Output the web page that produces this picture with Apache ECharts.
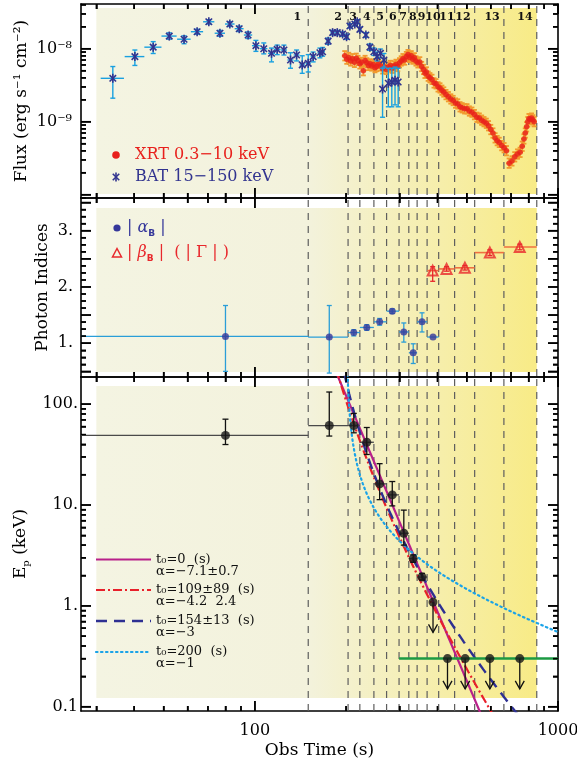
<!DOCTYPE html>
<html>
<head>
<meta charset="utf-8">
<title>GRB light curve, photon indices and Ep</title>
<script src="https://cdn.jsdelivr.net/npm/echarts@6.0.0/dist/echarts.min.js"></script>
<style>
html,body{margin:0;padding:0;background:#ffffff;}
#chart{width:577px;height:765px;}
</style>
</head>
<body>
<div id="chart"></div>
<script>
// ===================== DATA =====================
const timeAxisRange = [26.7, 1000];
const fluxAxisRange = [9.0e-11, 4.1e-8];
const indexAxisRange = [0.4, 3.58];
const epAxisRange = [0.0906, 186];

const timeLabelValues = [100, 1000];
const fluxLabelExponents = [-9, -8];
const indexLabelValues = [1, 2, 3];
const epLabelValues = [0.1, 1, 10, 100];

const intervalBounds = [150, 203, 222, 247, 272, 299, 322, 343, 370, 404, 456, 531, 663, 851];
const intervalNames = ['1','2','3','4','5','6','7','8','9','10','11','12','13','14'];
const intervalLabelTimes = [138, 188, 211, 234, 259, 285, 308, 332, 355, 387, 430, 486, 606, 778];
const shadeStart = 30, shadeSplit = 150, shadeEnd = 851;

// BAT 15-150 keV flux
const batTime = [34.0,40.2,46.2,52.2,58.4,64.5,70.5,76.7,82.7,88.8,95.0,100.8,107.0,113.5,118.5,124.7,131.1,137.3,143.3,150.0,155.7,163.9,167.3,174.5,180.5,187.0,194.7,200.7,205.8,213.7,217.6,222.0,232.4,239.6,247.0,253.0,259.6,263.8,266.6,275.6,283.0,290.0,297.0];
const batFlux = [3.93e-9,7.8e-9,1.05e-8,1.49e-8,1.35e-8,1.71e-8,2.34e-8,1.63e-8,2.18e-8,1.88e-8,1.54e-8,1.10e-8,1.00e-8,8.65e-9,9.8e-9,9.6e-9,7.0e-9,8.2e-9,6.0e-9,6.3e-9,7.8e-9,8.8e-9,9.1e-9,1.27e-8,1.66e-8,1.66e-8,1.59e-8,1.46e-8,2.05e-8,2.18e-8,2.34e-8,1.84e-8,1.54e-8,1.05e-8,9.1e-9,7.8e-9,8.65e-9,2.8e-9,7.0e-9,3.36e-9,3.5e-9,3.7e-9,3.5e-9];
const batLo = [2.1e-9,5.9e-9,8.6e-9,1.35e-8,1.17e-8,1.58e-8,2.18e-8,1.48e-8,2.02e-8,1.72e-8,1.38e-8,9.2e-9,8.5e-9,6.6e-9,8.3e-9,8.2e-9,5.4e-9,6.8e-9,4.6e-9,4.8e-9,6.6e-9,7.5e-9,7.9e-9,1.15e-8,1.55e-8,1.55e-8,1.48e-8,1.35e-8,1.92e-8,2.05e-8,2.2e-8,1.72e-8,1.43e-8,9.5e-9,8.1e-9,6.8e-9,7.5e-9,1.15e-9,5.6e-9,1.6e-9,1.6e-9,1.7e-9,1.6e-9];
const batHi = [5.7e-9,9.6e-9,1.25e-8,1.65e-8,1.5e-8,1.85e-8,2.5e-8,1.78e-8,2.34e-8,2.04e-8,1.7e-8,1.3e-8,1.2e-8,1.02e-8,1.12e-8,1.12e-8,8.8e-9,9.6e-9,8.0e-9,8.3e-9,9.0e-9,1.02e-8,1.04e-8,1.4e-8,1.78e-8,1.78e-8,1.7e-8,1.58e-8,2.2e-8,2.32e-8,2.5e-8,1.97e-8,1.66e-8,1.16e-8,1.02e-8,9.0e-9,9.9e-9,5.4e-9,8.6e-9,5.4e-9,5.4e-9,5.6e-9,5.4e-9];
const batHalfBin = 3;

// XRT 0.3-10 keV flux
const xrtTime = [198,201,204,207,210,213,216,219,222,225,228,231,234,237,240,243,246,249,252,256,260,264,268,272,276,280,284,288,292,296,300,304,308,312,316,320,324,328,332,336,340,345,350,355,360,364,368,373,378,384,390,396,402,408,414,420,427,435,443,451,459,467,475,483,492,501,510,520,530,540,550,560,570,580,590,600,610,620,630,640,652,664,676,690,705,720,735,750,762,772,780,788,795,802,810,818,826,834];
const xrtFlux = [8.0e-9,7.2e-9,7.6e-9,6.8e-9,7.3e-9,6.5e-9,7.4e-9,6.9e-9,6.2e-9,6.5e-9,5.0e-9,6.9e-9,6.4e-9,5.9e-9,6.2e-9,5.8e-9,6.1e-9,5.5e-9,5.7e-9,6.2e-9,5.8e-9,5.3e-9,5.6e-9,5.2e-9,5.6e-9,5.9e-9,5.4e-9,5.8e-9,6.1e-9,5.7e-9,6.4e-9,6.8e-9,7.3e-9,7.0e-9,7.8e-9,8.3e-9,7.6e-9,8.0e-9,7.2e-9,7.5e-9,6.8e-9,6.4e-9,6.6e-9,5.7e-9,5.2e-9,4.6e-9,4.8e-9,4.2e-9,4.0e-9,3.8e-9,3.4e-9,3.3e-9,3.0e-9,2.9e-9,2.7e-9,2.55e-9,2.35e-9,2.2e-9,2.05e-9,1.95e-9,1.8e-9,1.75e-9,1.6e-9,1.55e-9,1.5e-9,1.5e-9,1.4e-9,1.35e-9,1.25e-9,1.15e-9,1.12e-9,1.05e-9,1.0e-9,9.5e-10,8.8e-10,7.8e-10,7.0e-10,6.0e-10,5.5e-10,5.2e-10,4.7e-10,4.4e-10,4.0e-10,2.7e-10,2.9e-10,3.3e-10,3.6e-10,3.8e-10,4.6e-10,5.8e-10,7.0e-10,8.5e-10,1.0e-9,1.1e-9,1.08e-9,1.12e-9,1.06e-9,1.0e-9];
const xrtRelErr = 0.16;
const xrtRelHalfBin = 0.022;

// |alpha_B|
const alphaTime  = [80, 176, 212, 234, 258, 284, 310, 333, 356, 387];
const alphaVal   = [1.12, 1.11, 1.19, 1.28, 1.38, 1.57, 1.20, 0.83, 1.38, 1.11];
const alphaLo    = [0.50, 0.47, 1.13, 1.23, 1.32, 1.53, 1.02, 0.64, 1.20, 1.11];
const alphaHi    = [1.67, 1.67, 1.24, 1.33, 1.44, 1.61, 1.36, 0.99, 1.54, 1.11];
const alphaStart = [0.5, 150, 203, 222, 247, 272, 299, 322, 343, 370];
const alphaEnd   = [150, 203, 222, 247, 272, 299, 322, 343, 370, 404];

// |beta_B| (|Gamma|)
const betaTime  = [386, 429, 493, 596, 748];
const betaVal   = [2.29, 2.32, 2.34, 2.61, 2.71];
const betaLo    = [2.10, 2.28, 2.30, 2.56, 2.66];
const betaHi    = [2.36, 2.36, 2.38, 2.66, 2.76];
const betaStart = [370, 404, 456, 531, 663];
const betaEnd   = [404, 456, 531, 663, 851];

// Ep (keV)
const epTime  = [80, 176, 212, 234, 258, 284, 310, 333, 356];
const epVal   = [49, 61.4, 61.4, 41.9, 16.2, 12.6, 5.25, 2.94, 1.93];
const epLo    = [39.8, 48.3, 52, 31.7, 11.3, 9.8, 4.0, 2.7, 1.8];
const epHi    = [71, 132, 81, 58.7, 25.7, 17.1, 8.9, 3.2, 2.1];
const epStart = [0.5, 150, 203, 222, 247, 272, 299, 322, 343];
const epEnd   = [150, 203, 222, 247, 272, 299, 322, 343, 370];
const epULTime = [387, 432, 494, 596, 748];
const epULVal  = [1.09, 0.3, 0.3, 0.3, 0.3];
const ulArrowFactor = 0.5;
const greenLineTime = [299, 1000];
const greenLineEp = 0.3;

// Ep(t) = N * ((t - t0)/(300 - t0))^alpha
const modelT0 = [0, 109, 154, 200];
const modelAlpha = [-7.1, -4.2, -3, -1];
const modelEpAt300 = [6.8, 4.8, 5.3, 4.4];

// ===================== STYLE / BUILD =====================
const FONT = '"DejaVu Serif", "Liberation Serif", serif';
const C = {
  red: '#e8201c', orange: '#f29a2e', navy: '#32348f', cyan: '#19a0e0',
  abBlue: '#35379a', abBar: '#2a9ed8', beta: '#e8282c', betaBar: '#f07040',
  magenta: '#b8208a', dashRed: '#e8202a', dashNavy: '#2e3092', dotCyan: '#1aa3e8', green: '#1c9a43'
};
const SUP = {'-':'\u207B','0':'\u2070','1':'\u00B9','2':'\u00B2','3':'\u00B3','4':'\u2074','5':'\u2075','6':'\u2076','7':'\u2077','8':'\u2078','9':'\u2079'};

const gridDefs = [
  {left: 81, top: 4, height: 194},
  {left: 81, top: 198, height: 179},
  {left: 81, top: 377, height: 334}
];
const gridRight = 19;
const yRanges = [fluxAxisRange, indexAxisRange, epAxisRange];
const yTypes = ['log', 'value', 'log'];
const yRefs = [1e-9, 2, 1];
const shadeInsets = [[4, 4], [10, 5], [9, 13]];

function near(a, b) { return Math.abs(a - b) <= 1e-6 * Math.max(1, Math.abs(b)); }
function logTicks(range, mults) {
  const out = [];
  for (let e = Math.floor(Math.log10(range[0])) - 1; e <= Math.ceil(Math.log10(range[1])); e++) {
    for (const m of mults) {
      const v = m * Math.pow(10, e);
      if (v >= range[0] * 0.999 && v <= range[1] * 1.001) out.push(v);
    }
  }
  return out;
}
function linTicks(range, step) {
  const out = [];
  for (let v = Math.ceil(range[0] / step) * step; v <= range[1] + 1e-9; v += step) out.push(+v.toFixed(6));
  return out;
}
const xMajor = logTicks(timeAxisRange, [1]);
const xMinor = logTicks(timeAxisRange, [2,3,4,5,6,7,8,9]);
const yMajorSets = [logTicks(fluxAxisRange, [1]), linTicks(indexAxisRange, 0.5), logTicks(epAxisRange, [1])];
const yMinorSets = [logTicks(fluxAxisRange, [2,3,4,5,6,7,8,9]),
  linTicks(indexAxisRange, 0.125).filter(v => !near(v / 0.5, Math.round(v / 0.5))),
  logTicks(epAxisRange, [2,3,4,5,6,7,8,9])];

function fmtFlux(v) {
  const l = Math.log10(v), e = Math.round(l);
  if (Math.abs(l - e) > 1e-6 || fluxLabelExponents.indexOf(e) < 0) return '';
  return '10' + String(e).split('').map(c => SUP[c]).join('');
}
function fmtIndex(v) {
  for (const t of indexLabelValues) if (near(v, t)) return t + '.';
  return '';
}
function fmtEp(v) {
  for (const t of epLabelValues) if (Math.abs(Math.log10(v) - Math.log10(t)) < 1e-6) return t < 1 ? String(t) : t + '.';
  return '';
}
function fmtTime(v) {
  for (const t of timeLabelValues) if (Math.abs(Math.log10(v) - Math.log10(t)) < 1e-6) return String(t);
  return '';
}
const yFormatters = [fmtFlux, fmtIndex, fmtEp];
const yNames = ['Flux (erg s\u207B\u00B9 cm\u207B\u00B2)', 'Photon Indices', '{n|E}{s|p}{n| (keV)}'];
const yNameGaps = [51, 30, 50];
const yLabelMargins = [9, 8, 3];

function tickCfg(values, len) {
  return {show: true, inside: true, length: len, customValues: values, lineStyle: {color: '#000', width: 1.5}};
}
const xAxes = [], yAxes = [];
gridDefs.forEach((g, i) => {
  const last = i === gridDefs.length - 1;
  const xBase = {type: 'log', logBase: 10, gridIndex: i, min: timeAxisRange[0], max: timeAxisRange[1],
    splitLine: {show: false}, minorTick: {show: false}, axisPointer: {show: false}};
  const yBase = {type: yTypes[i], gridIndex: i, min: yRanges[i][0], max: yRanges[i][1],
    splitLine: {show: false}, minorTick: {show: false}, axisPointer: {show: false}};
  const line = () => ({show: true, onZero: false, lineStyle: {color: '#000', width: 1.6}});
  const noLine = () => ({show: false, onZero: false});
  xAxes.push(Object.assign({}, xBase, {position: 'bottom', axisLine: line(), axisTick: tickCfg(xMajor, 10),
    axisLabel: {show: last, formatter: fmtTime, margin: 12, fontFamily: FONT, fontSize: 16, color: '#000', showMinLabel: true, showMaxLabel: true},
    name: last ? 'Obs Time (s)' : '', nameLocation: 'middle', nameGap: 31, nameMoveOverlap: false,
    nameTextStyle: {fontFamily: FONT, fontSize: 17, color: '#000'}}));
  xAxes.push(Object.assign({}, xBase, {position: 'bottom', axisLine: noLine(), axisTick: tickCfg(xMinor, 5), axisLabel: {show: false}}));
  xAxes.push(Object.assign({}, xBase, {position: 'top', axisLine: line(), axisTick: tickCfg(xMajor, 10), axisLabel: {show: false}}));
  xAxes.push(Object.assign({}, xBase, {position: 'top', axisLine: noLine(), axisTick: tickCfg(xMinor, 5), axisLabel: {show: false}}));
  yAxes.push(Object.assign({}, yBase, {position: 'left', axisLine: line(), axisTick: tickCfg(yMajorSets[i], 10),
    axisLabel: {formatter: yFormatters[i], margin: yLabelMargins[i], fontFamily: FONT, fontSize: 16, color: '#000', showMinLabel: true, showMaxLabel: true},
    name: yNames[i], nameLocation: 'middle', nameGap: yNameGaps[i], nameMoveOverlap: false,
    nameTextStyle: {fontFamily: FONT, fontSize: 17, color: '#000',
      rich: {n: {fontFamily: FONT, fontSize: 17, color: '#000', lineHeight: 20},
             s: {fontFamily: FONT, fontSize: 10, color: '#000', lineHeight: 20, verticalAlign: 'bottom'}}}}));
  yAxes.push(Object.assign({}, yBase, {position: 'left', axisLine: noLine(), axisTick: tickCfg(yMinorSets[i], 5), axisLabel: {show: false}}));
  yAxes.push(Object.assign({}, yBase, {position: 'right', axisLine: line(), axisTick: tickCfg(yMajorSets[i], 10), axisLabel: {show: false}}));
  yAxes.push(Object.assign({}, yBase, {position: 'right', axisLine: noLine(), axisTick: tickCfg(yMinorSets[i], 5), axisLabel: {show: false}}));
});

const series = [];
function ax(i) { return {xAxisIndex: 4 * i, yAxisIndex: 4 * i}; }

gridDefs.forEach((g, i) => {
  const yRef = yRefs[i];
  series.push(Object.assign({
    type: 'custom', z: 0, silent: true, clip: false, encode: {x: 0, y: 3},
    data: [[shadeStart, shadeSplit, shadeEnd, yRef]],
    renderItem(params, api) {
      const cs = params.coordSys;
      const x0 = api.coord([api.value(0), yRef])[0];
      const xs = api.coord([api.value(1), yRef])[0];
      const x1 = api.coord([api.value(2), yRef])[0];
      const f = (xs - x0) / (x1 - x0);
      return {type: 'rect', shape: {x: x0, y: cs.y + shadeInsets[i][0], width: x1 - x0, height: cs.height - shadeInsets[i][0] - shadeInsets[i][1]},
        style: {fill: new echarts.graphic.LinearGradient(0, 0, 1, 0, [
          {offset: 0, color: '#f4f4e2'}, {offset: f, color: '#f3f2dc'}, {offset: 1, color: '#f8eb86'}])}};
    }
  }, ax(i)));
  series.push(Object.assign({
    type: 'custom', z: 1, silent: true, clip: false, encode: {x: 0, y: 1},
    data: intervalBounds.map(b => [b, yRef]),
    renderItem(params, api) {
      const cs = params.coordSys;
      const x = api.coord([api.value(0), yRef])[0];
      return {type: 'line', shape: {x1: x, y1: cs.y + 2, x2: x, y2: cs.y + cs.height},
        style: {stroke: '#5e5e5e', lineWidth: 1.2, lineDash: [7, 6]}};
    }
  }, ax(i)));
});

series.push(Object.assign({
  type: 'custom', z: 6, silent: true, clip: false, encode: {x: 0, y: 1},
  data: intervalLabelTimes.map((t, k) => [t, yRefs[0], k]),
  renderItem(params, api) {
    const cs = params.coordSys;
    const x = api.coord([api.value(0), yRefs[0]])[0];
    return {type: 'text', x: x, y: cs.y + 12.7,
      style: {text: intervalNames[api.value(2)], fill: '#111', font: 'bold 11px ' + FONT, align: 'center', verticalAlign: 'middle'}};
  }
}, ax(0)));

function errorBars(i, data, o) {
  return Object.assign({
    type: 'custom', z: o.z || 3, silent: true, clip: false, encode: {x: 0, y: 1}, data,
    renderItem(params, api) {
      const cs = params.coordSys;
      const t = api.value(0), v = api.value(1);
      const p = api.coord([t, v]), pl = api.coord([t, api.value(2)]), ph = api.coord([t, api.value(3)]);
      const xs = Math.max(cs.x, api.coord([api.value(4), v])[0]);
      const xe = Math.min(cs.x + cs.width, api.coord([api.value(5), v])[0]);
      const ch = [];
      ch.push({type: 'line', shape: {x1: xs, y1: p[1], x2: xe, y2: p[1]}, style: {stroke: o.hColor, lineWidth: o.hlw}});
      if (Math.abs(pl[1] - ph[1]) > 0.5) {
        ch.push({type: 'line', shape: {x1: p[0], y1: pl[1], x2: p[0], y2: ph[1]}, style: {stroke: o.vColor, lineWidth: o.vlw}});
        if (o.cap) {
          ch.push({type: 'line', shape: {x1: p[0] - o.cap, y1: pl[1], x2: p[0] + o.cap, y2: pl[1]}, style: {stroke: o.vColor, lineWidth: o.vlw}});
          ch.push({type: 'line', shape: {x1: p[0] - o.cap, y1: ph[1], x2: p[0] + o.cap, y2: ph[1]}, style: {stroke: o.vColor, lineWidth: o.vlw}});
        }
      }
      return {type: 'group', children: ch};
    }
  }, ax(i));
}

// ---- panel 1: fluxes ----
series.push(errorBars(0, xrtTime.map((t, k) => [t, xrtFlux[k], xrtFlux[k] / (1 + xrtRelErr), xrtFlux[k] * (1 + xrtRelErr), t * (1 - xrtRelHalfBin), t * (1 + xrtRelHalfBin)]),
  {hColor: C.orange, vColor: C.orange, hlw: 1.8, vlw: 1.8, cap: 2.5, z: 3}));
series.push(Object.assign({
  type: 'scatter', name: 'XRT 0.3-10 keV', z: 4, silent: true, symbol: 'circle', symbolSize: 5.5,
  itemStyle: {color: C.red}, data: xrtTime.map((t, k) => [t, xrtFlux[k]])
}, ax(0)));
series.push(errorBars(0, batTime.map((t, k) => [t, batFlux[k], batLo[k], batHi[k], t - batHalfBin, t + batHalfBin]),
  {hColor: C.cyan, vColor: C.cyan, hlw: 1.4, vlw: 1.4, cap: 2.5, z: 5}));
function asteriskEls(cx, cy, z) {
  const r = 4.5, d = r * 0.72, st = {stroke: C.navy, lineWidth: 1.6};
  return [
    {type: 'line', z, shape: {x1: cx, y1: cy - r, x2: cx, y2: cy + r}, style: st},
    {type: 'line', z, shape: {x1: cx - d, y1: cy - d, x2: cx + d, y2: cy + d}, style: st},
    {type: 'line', z, shape: {x1: cx - d, y1: cy + d, x2: cx + d, y2: cy - d}, style: st}
  ];
}
series.push(Object.assign({
  type: 'custom', name: 'BAT 15-150 keV', z: 6, silent: true, clip: false, encode: {x: 0, y: 1},
  data: batTime.map((t, k) => [t, batFlux[k]]),
  renderItem(params, api) {
    const p = api.coord([api.value(0), api.value(1)]);
    return {type: 'group', children: asteriskEls(p[0], p[1])};
  }
}, ax(0)));

// ---- panel 2: photon indices ----
series.push(errorBars(1, alphaTime.map((t, k) => [t, alphaVal[k], alphaLo[k], alphaHi[k], alphaStart[k], alphaEnd[k]]),
  {hColor: C.abBar, vColor: C.abBar, hlw: 1.3, vlw: 1.3, cap: 2.5}));
series.push(Object.assign({
  type: 'scatter', name: '|alpha_B|', z: 4, silent: true, symbol: 'circle', symbolSize: 7,
  itemStyle: {color: C.abBlue}, data: alphaTime.map((t, k) => [t, alphaVal[k]])
}, ax(1)));
series.push(errorBars(1, betaTime.map((t, k) => [t, betaVal[k], betaLo[k], betaHi[k], betaStart[k], betaEnd[k]]),
  {hColor: C.betaBar, vColor: C.beta, hlw: 1.6, vlw: 1.3, cap: 2.5}));
series.push(Object.assign({
  type: 'scatter', name: '|beta_B|', z: 4, silent: true, symbol: 'triangle', symbolSize: 10,
  itemStyle: {color: 'rgba(255,255,255,0)', borderColor: C.beta, borderWidth: 2},
  data: betaTime.map((t, k) => [t, betaVal[k]])
}, ax(1)));

// ---- panel 3: Ep ----
function modelCurve(m) {
  const pts = [], n = 500, l0 = Math.log10(150), l1 = 3;
  for (let k = 0; k <= n; k++) {
    const t = Math.pow(10, l0 + (l1 - l0) * k / n);
    if (t <= modelT0[m] + 0.5) continue;
    pts.push([t, modelEpAt300[m] * Math.pow((t - modelT0[m]) / (300 - modelT0[m]), modelAlpha[m])]);
  }
  return pts;
}
const modelStyles = [
  {color: C.magenta, width: 2.2, type: 'solid'},
  {color: C.dashRed, width: 2.2, type: [9, 3, 2, 3]},
  {color: C.dashNavy, width: 2.4, type: [11, 7]},
  {color: C.dotCyan, width: 2.2, type: [1.5, 3.5], cap: 'round'}
];
modelT0.forEach((t0, m) => {
  series.push(Object.assign({
    type: 'line', z: 2, silent: true, showSymbol: false, symbol: 'none', clip: true,
    lineStyle: modelStyles[m], data: modelCurve(m)
  }, ax(2)));
});
series.push(Object.assign({
  type: 'line', z: 2, silent: true, showSymbol: false, symbol: 'none',
  lineStyle: {color: C.green, width: 2.5}, data: greenLineTime.map(t => [t, greenLineEp])
}, ax(2)));
series.push(errorBars(2, epTime.map((t, k) => [t, epVal[k], epLo[k], epHi[k], epStart[k], epEnd[k]]),
  {hColor: '#4a4a4a', vColor: '#111', hlw: 1.3, vlw: 1.3, cap: 3}));
series.push(Object.assign({
  type: 'custom', z: 3, silent: true, clip: false, encode: {x: 0, y: 1},
  data: epULTime.map((t, k) => [t, epULVal[k]]),
  renderItem(params, api) {
    const p = api.coord([api.value(0), api.value(1)]);
    const q = api.coord([api.value(0), api.value(1) * ulArrowFactor]);
    const st = {stroke: '#111', lineWidth: 1.3};
    return {type: 'group', children: [
      {type: 'line', shape: {x1: p[0], y1: p[1], x2: q[0], y2: q[1]}, style: st},
      {type: 'polyline', shape: {points: [[q[0] - 4.5, q[1] - 8], [q[0], q[1]], [q[0] + 4.5, q[1] - 8]]}, style: Object.assign({fill: 'none'}, st)}
    ]};
  }
}, ax(2)));
series.push(Object.assign({
  type: 'scatter', name: 'Ep', z: 4, silent: true, symbol: 'circle', symbolSize: 9,
  itemStyle: {color: '#161616'},
  data: epTime.map((t, k) => [t, epVal[k]]).concat(epULTime.map((t, k) => [t, epULVal[k]]))
}, ax(2)));

// ---- in-panel legends ----
const legendText = (x, y, text, fill, size, rich) => ({
  type: 'text', x, y, z: 50,
  style: {text, fill, font: size + 'px ' + FONT, align: 'left', verticalAlign: 'middle', rich}
});
const richAB = (col) => ({
  g: {fontFamily: FONT, fontSize: 16, fontStyle: 'italic', fill: col, lineHeight: 20, verticalAlign: 'middle'},
  b: {fontFamily: '"DejaVu Sans", sans-serif', fontSize: 9, fontWeight: 'bold', fill: col, lineHeight: 20, verticalAlign: 'bottom'}
});
const graphics = [
  {type: 'circle', z: 50, shape: {cx: 116, cy: 155, r: 3.8}, style: {fill: C.red}},
  legendText(135, 155, 'XRT 0.3\u221210 keV', C.red, 16),
  ...asteriskEls(116, 177, 50),
  legendText(135, 177, 'BAT 15\u2212150 keV', C.navy, 16),
  {type: 'circle', z: 50, shape: {cx: 117, cy: 228, r: 3.6}, style: {fill: C.abBlue}},
  legendText(127, 228, '| {g|\u03B1}{b|B} |', C.abBlue, 16, richAB(C.abBlue)),
  {type: 'polygon', z: 50, shape: {points: [[117, 248.5], [112.5, 257], [121.5, 257]]}, style: {fill: 'none', stroke: C.beta, lineWidth: 1.5}},
  legendText(127, 253, '| {g|\u03B2}{b|B} |  ( | \u0393 | )', C.beta, 16, richAB(C.beta)),
  {type: 'line', z: 50, shape: {x1: 96, y1: 559.5, x2: 151, y2: 559.5}, style: {stroke: C.magenta, lineWidth: 2.2}},
  legendText(156, 559.5, 't\u2080=0  (s)', '#111', 13),
  legendText(156, 571.5, '\u03B1=\u22127.1\u00B10.7', '#111', 13),
  {type: 'line', z: 50, shape: {x1: 96, y1: 590, x2: 151, y2: 590}, style: {stroke: C.dashRed, lineWidth: 2.2, lineDash: [9, 3, 2, 3]}},
  legendText(156, 590, 't\u2080=109\u00B189  (s)', '#111', 13),
  legendText(156, 602, '\u03B1=\u22124.2  2.4', '#111', 13),
  {type: 'line', z: 50, shape: {x1: 96, y1: 621, x2: 151, y2: 621}, style: {stroke: C.dashNavy, lineWidth: 2.4, lineDash: [11, 7]}},
  legendText(156, 621, 't\u2080=154\u00B113  (s)', '#111', 13),
  legendText(156, 633, '\u03B1=\u22123', '#111', 13),
  {type: 'line', z: 50, shape: {x1: 96, y1: 652, x2: 151, y2: 652}, style: {stroke: C.dotCyan, lineWidth: 2.2, lineDash: [1.5, 3.5], lineCap: 'round'}},
  legendText(156, 652, 't\u2080=200  (s)', '#111', 13),
  legendText(156, 664, '\u03B1=\u22121', '#111', 13)
];

const option = {
  animation: false,
  backgroundColor: '#ffffff',
  grid: gridDefs.map(g => ({left: g.left, top: g.top, right: gridRight, height: g.height, containLabel: false, outerBoundsMode: 'none', show: false})),
  xAxis: xAxes,
  yAxis: yAxes,
  series: series,
  graphic: graphics
};
const chart = echarts.init(document.getElementById('chart'), null, {renderer: 'canvas'});
chart.setOption(option);

// extra inward ticks drawn on top of everything, placed through the axes' own scales
try {
  const tickEls = [];
  const W = chart.getWidth();
  gridDefs.forEach((g, i) => {
    const gx0 = g.left, gx1 = W - gridRight, gy0 = g.top, gy1 = g.top + g.height;
    const seg = (x1, y1, x2, y2) => tickEls.push({type: 'line', z: 60, silent: true, shape: {x1, y1, x2, y2}, style: {stroke: '#000', lineWidth: 1.5}});
    const xt = (v, len) => {
      const x = chart.convertToPixel({xAxisIndex: 4 * i}, v);
      if (isFinite(x)) { seg(x, gy0, x, gy0 + len); seg(x, gy1, x, gy1 - len); }
    };
    const yt = (v, len) => {
      const y = chart.convertToPixel({yAxisIndex: 4 * i}, v);
      if (isFinite(y)) { seg(gx0, y, gx0 + len, y); seg(gx1, y, gx1 - len, y); }
    };
    xMajor.forEach(v => xt(v, 10)); xMinor.forEach(v => xt(v, 5));
    yMajorSets[i].forEach(v => yt(v, 10)); yMinorSets[i].forEach(v => yt(v, 5));
  });
  chart.setOption({graphic: graphics.concat(tickEls)});
} catch (e) { /* native axis ticks remain */ }
</script>
</body>
</html>
